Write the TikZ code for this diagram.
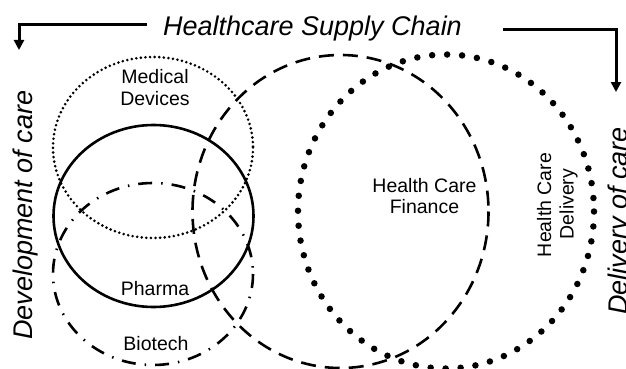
\documentclass[tikz,border=0pt]{standalone}
\usepackage{fontspec}
\setmainfont{Liberation Sans}
\usetikzlibrary{arrows.meta}
\begin{document}
\begin{tikzpicture}[x=1pt,y=-1pt,
  solidring/.style={line width=2.6pt},
  dashring/.style={line width=2.6pt, dash pattern=on 15pt off 9pt},
  dashdotring/.style={line width=2.6pt, dash pattern=on 14pt off 9pt on 1.5pt off 9pt},
  finedots/.style={line width=2.9pt, line cap=round, dash pattern=on 0pt off 4.6pt},
  bigdots/.style={line width=6.5pt, line cap=round, dash pattern=on 0pt off 15pt},
  lbl/.style={font=\fontsize{19.5}{22}\selectfont, inner sep=0pt, anchor=base},
  bigtext/.style={font=\fontsize{27}{30}\selectfont\itshape, inner sep=0pt, anchor=base},
  bracket/.style={line width=3pt, -{Triangle[width=10pt,length=10pt]}}
]
\useasboundingbox (0,0) rectangle (626,369);
\fill[white] (0,0) rectangle (626,369);

% rings
\draw[finedots]    (153,147.5) ellipse [x radius=100, y radius=90.5];
\draw[solidring]   (153.5,216) ellipse [x radius=100, y radius=91];
\draw[dashdotring] (153,274)   ellipse [x radius=100, y radius=91];
\draw[dashring]    (340.5,211.5) ellipse [x radius=148, y radius=156.5];
\draw[bigdots]     (446,211.5) ellipse [x radius=148, y radius=157];

% labels
\node[lbl] (med1) at (155,83) {Medical};
\node[lbl] (med2) at (155,105) {Devices};
\node[lbl] (pharma) at (155,295) {Pharma};
\node[lbl] (bio) at (156,350) {Biotech};
\node[lbl] (fin1) at (424.5,192) {Health Care};
\node[lbl] (fin2) at (424.5,213) {Finance};
\node[lbl, rotate=90] (del1) at (551,205) {Health Care};
\node[lbl, rotate=90] (del2) at (573.5,204) {Delivery};

% titles
\node[bigtext] (title) at (312.5,36) {Healthcare Supply Chain};
\node[bigtext, rotate=90] (dev) at (32.5,215) {Development of care};
\node[bigtext, rotate=90] (delcare) at (627,221) {Delivery of care};

% brackets
\coordinate (lstart) at (147,25);
\coordinate (ltip) at (19,50);
\coordinate (rstart) at (503,30);
\coordinate (rtip) at (616,92);
\draw[bracket] (lstart) -| (ltip);
\draw[bracket] (rstart) -| (rtip);
\end{tikzpicture}
\end{document}
